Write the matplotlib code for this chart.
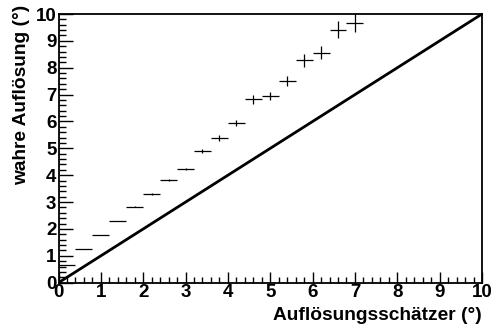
import numpy as np
import matplotlib.pyplot as plt
from matplotlib.ticker import MultipleLocator

# estimator bins (centre) and measured true resolution
schaetzer = [0.2, 0.6, 1.0, 1.4, 1.8, 2.2, 2.6, 3.0, 3.4, 3.8,
             4.2, 4.6, 5.0, 5.4, 5.8, 6.2, 6.6, 7.0]
wahr = [0.66, 1.25, 1.78, 2.29, 2.83, 3.30, 3.81, 4.23, 4.89, 5.38,
        5.94, 6.82, 6.95, 7.51, 8.27, 8.56, 9.42, 9.68]
wahr_err = [0.0, 0.0, 0.01, 0.01, 0.02, 0.03, 0.04, 0.05, 0.07, 0.10,
            0.11, 0.17, 0.15, 0.19, 0.25, 0.25, 0.33, 0.36]
bin_halfwidth = 0.2

plt.rcParams['font.family'] = 'Liberation Sans'
plt.rcParams['font.weight'] = 'bold'

fig = plt.figure(figsize=(4.91, 3.31), dpi=100)
ax = fig.add_axes([58.5 / 491, 1 - 282.7 / 331, 423.5 / 491, 268.7 / 331])

ax.errorbar(schaetzer, wahr, xerr=bin_halfwidth, yerr=wahr_err,
            fmt='none', ecolor='black', elinewidth=0.9, capsize=0, zorder=3)
ax.plot([0, 10], [0, 10], color='black', lw=2)

ax.set_xlim(0, 10)
ax.set_ylim(0, 10)
for a in (ax.xaxis, ax.yaxis):
    a.set_major_locator(MultipleLocator(1))
    a.set_minor_locator(MultipleLocator(0.2))
ax.tick_params(which='both', direction='in', top=False, right=False,
               labelsize=13.5, width=1)
ax.tick_params(axis='y', which='major', length=10, pad=1.5)
ax.tick_params(axis='y', which='minor', length=5)
ax.tick_params(axis='x', which='major', length=8, pad=1)
ax.tick_params(axis='x', which='minor', length=4)
for lab in ax.get_xticklabels() + ax.get_yticklabels():
    lab.set_fontweight('bold')
for s in ax.spines.values():
    s.set_linewidth(1.3)

ax.set_xlabel('Auflösungsschätzer (°)', fontsize=13.8, fontweight='bold',
              ha='right', va='top')
ax.xaxis.set_label_coords(1.0, -0.09)
ax.set_ylabel('wahre Auflösung (°)', fontsize=13.8, fontweight='bold',
              ha='right', va='center')
ax.yaxis.set_label_coords(-0.088, 1.036)

fig.savefig('out.png', dpi=100)
